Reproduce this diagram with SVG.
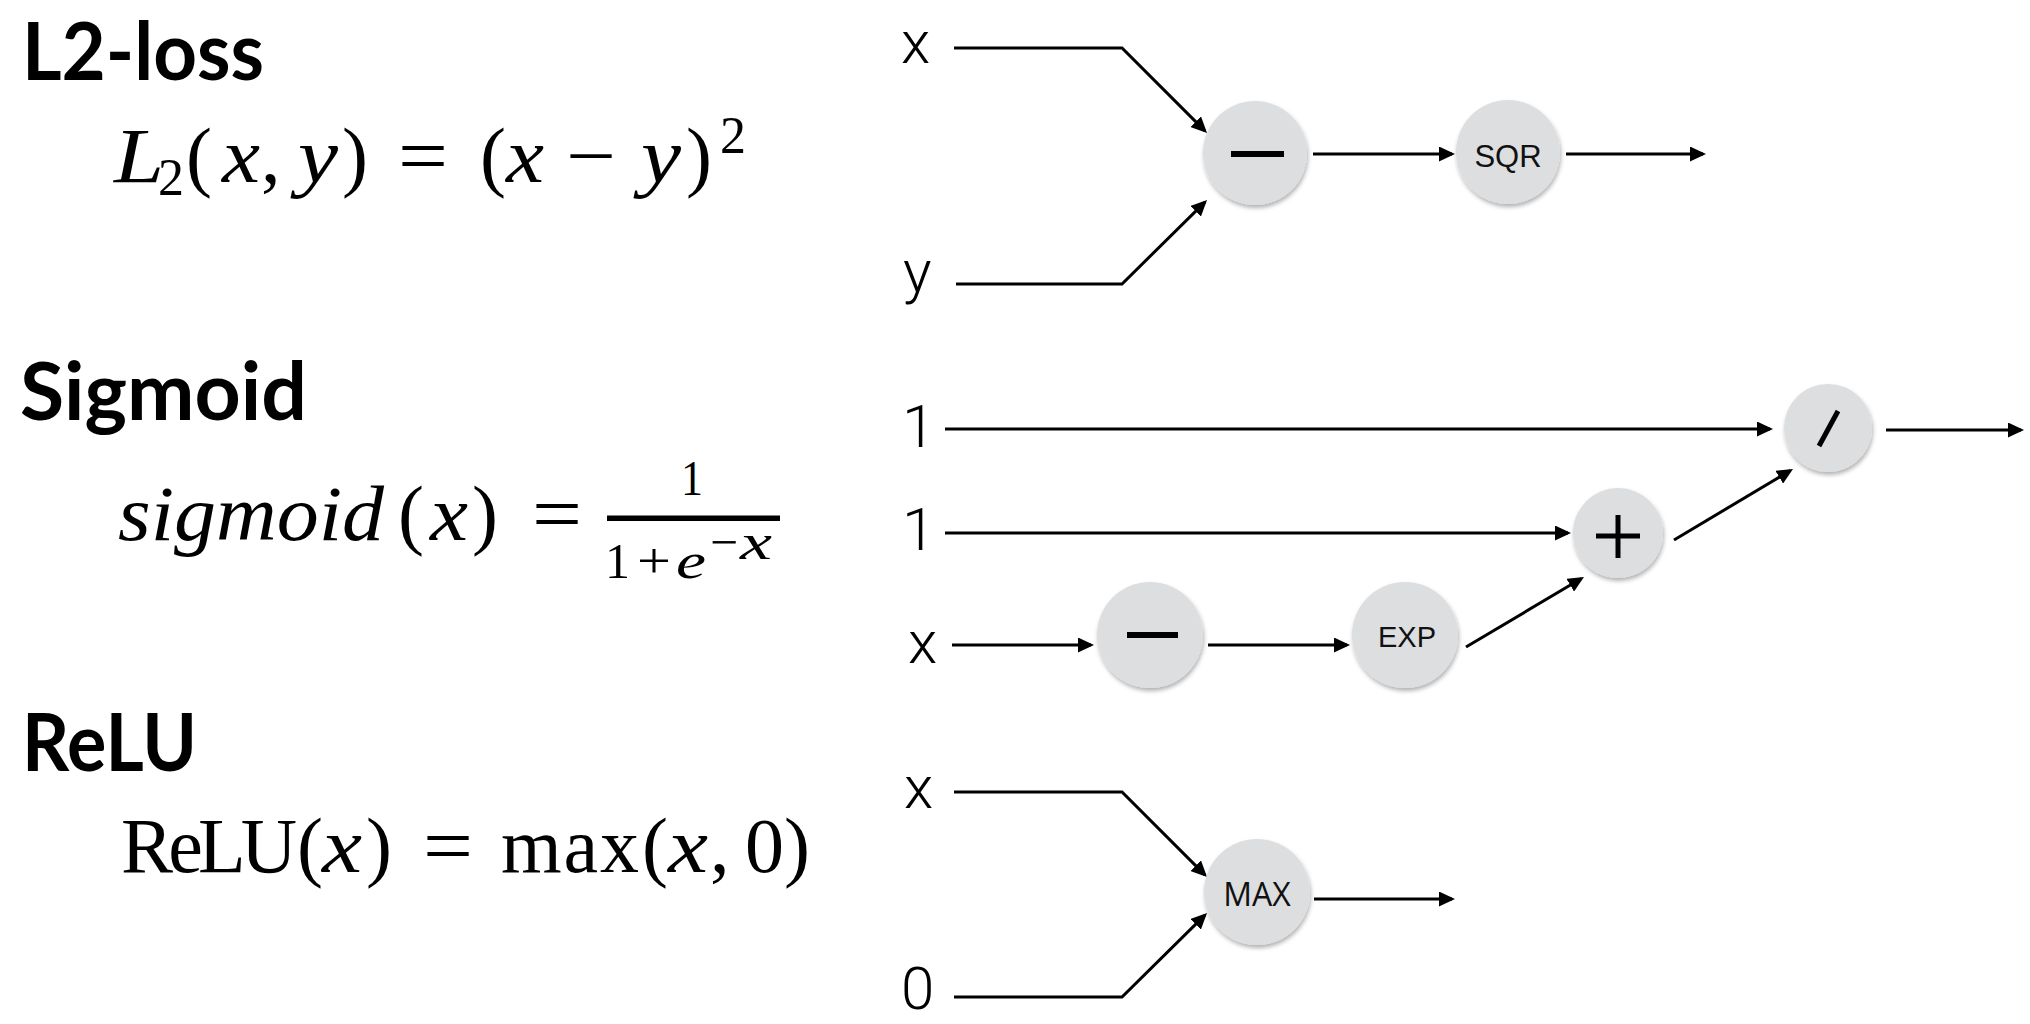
<svg xmlns="http://www.w3.org/2000/svg" width="2030" height="1024" viewBox="0 0 2030 1024">
<style>
.title{font-family:Lato,"Open Sans","Liberation Sans",sans-serif;font-weight:700;font-size:80px;fill:#000}
.math{font-family:"Liberation Serif","Times New Roman",serif;font-size:78px;fill:#000}
.frac{font-family:"Liberation Serif","Times New Roman",serif;font-size:50px;fill:#000}
.it{font-style:italic}
.lbl{font-family:Roboto,Lato,"Liberation Sans",sans-serif;font-weight:300;font-size:60px;fill:#000}
.op{font-family:"Liberation Sans",Arial,sans-serif;font-size:31px;fill:#111;text-anchor:middle}
.opmax{font-family:"Open Sans","Liberation Sans",sans-serif;font-size:32px;fill:#111;text-anchor:middle}
.node circle{fill:#dddee0;filter:url(#sh)}
.edge{fill:none;stroke:#000;stroke-width:3;marker-end:url(#ah)}
.glyph{stroke:#000;stroke-width:6;fill:none}
</style>
<defs>
<marker id="ah" markerUnits="userSpaceOnUse" markerWidth="17" markerHeight="15" refX="13" refY="7.5" orient="auto"><path d="M0,0 L16,7.5 L0,15 z" fill="#000"/></marker>
<filter id="sh" x="-20%" y="-20%" width="140%" height="150%"><feDropShadow dx="1" dy="3" stdDeviation="2" flood-color="#000" flood-opacity="0.3"/></filter>
</defs>
<rect width="2030" height="1024" fill="#fff"/>

<!-- Titles -->
<text class="title" x="22" y="80" textLength="242" lengthAdjust="spacingAndGlyphs">L2-loss</text>
<text class="title" x="20" y="420" textLength="287" lengthAdjust="spacingAndGlyphs">Sigmoid</text>
<text class="title" x="22" y="771" textLength="175" lengthAdjust="spacingAndGlyphs">ReLU</text>

<!-- L2 formula -->
<g id="formula-l2">
<text class="math it" x="114" y="182" textLength="50" lengthAdjust="spacingAndGlyphs">L</text>
<text class="math" x="158" y="195" style="font-size:52px">2</text>
<text class="math" x="186" y="182">(</text>
<text class="math it" x="222" y="182" textLength="38" lengthAdjust="spacingAndGlyphs">x</text>
<text class="math" x="261" y="182">,</text>
<text class="math it" x="298" y="182" textLength="40" lengthAdjust="spacingAndGlyphs">y</text>
<text class="math" x="342" y="182">)</text>
<text class="math" x="398" y="182" textLength="50" lengthAdjust="spacingAndGlyphs">=</text>
<text class="math" x="480" y="182">(</text>
<text class="math it" x="506" y="182" textLength="38" lengthAdjust="spacingAndGlyphs">x</text>
<text class="math" x="566" y="182" textLength="50" lengthAdjust="spacingAndGlyphs">−</text>
<text class="math it" x="641" y="182" textLength="40" lengthAdjust="spacingAndGlyphs">y</text>
<text class="math" x="686" y="182">)</text>
<text class="math" x="720" y="153" style="font-size:52px">2</text>
</g>

<!-- Sigmoid formula -->
<g id="formula-sigmoid">
<text class="math it" x="118" y="540" textLength="266" lengthAdjust="spacingAndGlyphs">sigmoid</text>
<text class="math" x="398" y="540">(</text>
<text class="math it" x="430" y="540" textLength="38" lengthAdjust="spacingAndGlyphs">x</text>
<text class="math" x="472" y="540">)</text>
<text class="math" x="532" y="540" textLength="50" lengthAdjust="spacingAndGlyphs">=</text>
<rect x="607" y="515.5" width="173" height="5.5" fill="#000"/>
<text class="frac" x="692" y="495" text-anchor="middle" textLength="22" lengthAdjust="spacingAndGlyphs">1</text>
<text class="frac" x="605" y="578">1</text>
<text class="frac" x="637" y="578" textLength="34" lengthAdjust="spacingAndGlyphs">+</text>
<text class="frac it" x="676" y="578" textLength="30" lengthAdjust="spacingAndGlyphs">e</text>
<text class="frac" x="710" y="559" textLength="28" lengthAdjust="spacingAndGlyphs">−</text>
<text class="frac it" x="740" y="559" textLength="32" lengthAdjust="spacingAndGlyphs">x</text>
</g>

<!-- ReLU formula -->
<g id="formula-relu">
<text class="math" x="121" y="872" textLength="176">ReLU</text>
<text class="math" x="297" y="872">(</text>
<text class="math it" x="322" y="872" textLength="40" lengthAdjust="spacingAndGlyphs">x</text>
<text class="math" x="366" y="872">)</text>
<text class="math" x="423" y="872" textLength="50" lengthAdjust="spacingAndGlyphs">=</text>
<text class="math" x="501" y="872" textLength="138">max</text>
<text class="math" x="642" y="872">(</text>
<text class="math it" x="668" y="872" textLength="40" lengthAdjust="spacingAndGlyphs">x</text>
<text class="math" x="710" y="872">,</text>
<text class="math" x="745" y="872">0</text>
<text class="math" x="784" y="872">)</text>
</g>

<!-- Input labels -->
<g id="in-l2-x"><text class="lbl" x="901" y="63">x</text></g>
<g id="in-l2-y"><text class="lbl" x="903" y="292">y</text></g>
<g id="in-sig-1a"><text class="lbl" x="902" y="447">1</text></g>
<g id="in-sig-1b"><text class="lbl" x="902" y="550">1</text></g>
<g id="in-sig-x"><text class="lbl" x="908" y="663">x</text></g>
<g id="in-relu-x"><text class="lbl" x="904" y="808">x</text></g>
<g id="in-relu-0"><text class="lbl" x="901" y="1009">0</text></g>

<!-- Connectors -->
<g id="connectors">
<path class="edge" d="M954,48 H1122 L1204.9,130.9"/>
<path class="edge" d="M956,284 H1122 L1204.9,202.1"/>
<path class="edge" d="M1313,154 H1452"/>
<path class="edge" d="M1566,154 H1703"/>

<path class="edge" d="M945,429 H1770"/>
<path class="edge" d="M1886,430 H2021"/>
<path class="edge" d="M945,533 H1568"/>
<path class="edge" d="M952,645 H1091"/>
<path class="edge" d="M1208,645 H1347"/>
<path class="edge" d="M1466,647 L1581.4,578.5"/>
<path class="edge" d="M1674,540 L1790.4,470.5"/>

<path class="edge" d="M954,792 H1122 L1204.9,874.9"/>
<path class="edge" d="M954,997 H1122 L1204.9,915.1"/>
<path class="edge" d="M1314,899 H1452"/>
</g>

<!-- Nodes -->
<g id="node-l2-sub" class="node">
<circle cx="1255" cy="153" r="52"/>
<line class="glyph" x1="1231" y1="154" x2="1284" y2="154"/>
</g>
<g id="node-sqr" class="node">
<circle cx="1508" cy="152" r="52"/>
<text class="op" x="1508" y="167">SQR</text>
</g>
<g id="node-div" class="node">
<circle cx="1828" cy="428" r="44"/>
<line class="glyph" x1="1838" y1="411" x2="1819" y2="446" style="stroke-width:5"/>
</g>
<g id="node-add" class="node">
<circle cx="1618" cy="533" r="45"/>
<line class="glyph" x1="1596" y1="536" x2="1640" y2="536" style="stroke-width:5"/>
<line class="glyph" x1="1618" y1="515" x2="1618" y2="558" style="stroke-width:5"/>
</g>
<g id="node-neg" class="node">
<circle cx="1150" cy="635" r="53"/>
<line class="glyph" x1="1127" y1="635" x2="1178" y2="635"/>
</g>
<g id="node-exp" class="node">
<circle cx="1405" cy="635" r="53"/>
<text class="op" x="1407" y="647" style="font-size:29px">EXP</text>
</g>
<g id="node-max" class="node">
<circle cx="1257" cy="892" r="53"/>
<text class="opmax" x="1257" y="906">MAX</text>
</g>
</svg>
